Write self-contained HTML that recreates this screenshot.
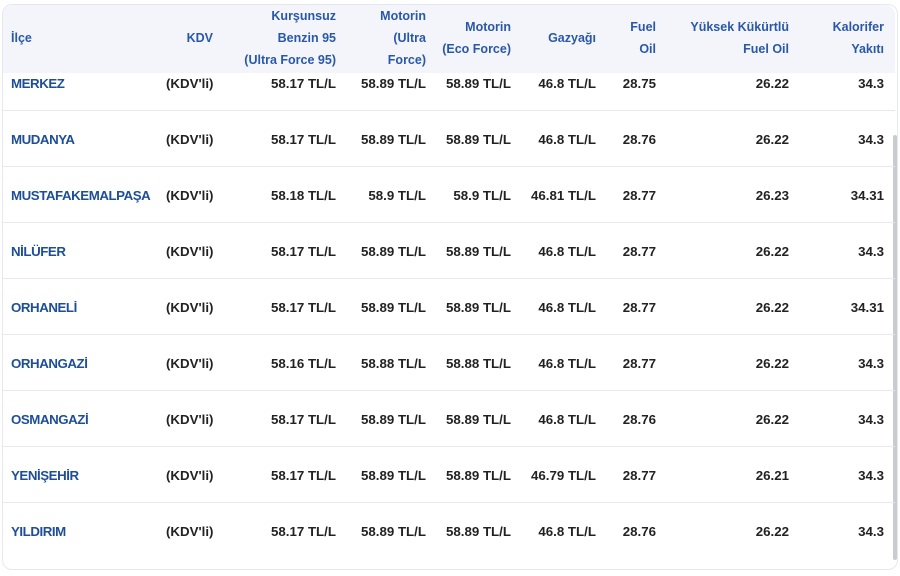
<!DOCTYPE html>
<html><head><meta charset="utf-8"><style>
body{margin:0;width:900px;height:576px;background:#fff;overflow:hidden;font-family:"Liberation Sans",sans-serif;font-weight:bold;font-size:13.3px;position:relative}
.box{position:absolute;left:2px;top:4px;width:894px;height:564px;border:1px solid #e6e8ee;border-radius:10px;}
.hd{position:absolute;left:3px;top:5px;width:892px;height:68px;background:#f3f5fb;border-radius:10px 10px 0 0}
.t{position:absolute;white-space:nowrap;line-height:22px}
.h{color:#2a58a8;font-size:12.5px;text-align:right}
.r{text-align:right;color:#222}
.n{color:#1d4e96;letter-spacing:-0.45px}
.k{color:#222}
.sep{position:absolute;left:3px;width:892px;height:1px;background:#e8e9ee}
.sb{position:absolute;left:893px;top:135px;width:4px;height:425px;background:#c9cbd0;border-radius:2px}
</style></head><body>
<div class="box"></div>
<div class="hd"></div>
<div class="sb"></div>
<div class="t h" style="left:11px;top:27px;text-align:left">İlçe</div>
<div class="t h" style="right:687px;top:27px">KDV</div>
<div class="t h" style="right:564px;top:5px">Kurşunsuz<br>Benzin 95<br>(Ultra Force 95)</div>
<div class="t h" style="right:474px;top:5px">Motorin<br>(Ultra<br>Force)</div>
<div class="t h" style="right:389px;top:16px">Motorin<br>(Eco Force)</div>
<div class="t h" style="right:304px;top:27px">Gazyağı</div>
<div class="t h" style="right:244px;top:16px">Fuel<br>Oil</div>
<div class="t h" style="right:111px;top:16px">Yüksek Kükürtlü<br>Fuel Oil</div>
<div class="t h" style="right:16px;top:16px">Kalorifer<br>Yakıtı</div>
<div id="rows"></div>
<script>
var d=[["MERKEZ","58.17","58.89","58.89","46.8","28.75","26.22","34.3"],
["MUDANYA","58.17","58.89","58.89","46.8","28.76","26.22","34.3"],
["MUSTAFAKEMALPAŞA","58.18","58.9","58.9","46.81","28.77","26.23","34.31"],
["NİLÜFER","58.17","58.89","58.89","46.8","28.77","26.22","34.3"],
["ORHANELİ","58.17","58.89","58.89","46.8","28.77","26.22","34.31"],
["ORHANGAZİ","58.16","58.88","58.88","46.8","28.77","26.22","34.3"],
["OSMANGAZİ","58.17","58.89","58.89","46.8","28.76","26.22","34.3"],
["YENİŞEHİR","58.17","58.89","58.89","46.79","28.77","26.21","34.3"],
["YILDIRIM","58.17","58.89","58.89","46.8","28.76","26.22","34.3"]];
var rights=[564,474,389,304,244,111,16],h="";
d.forEach(function(r,i){var y=73+i*56;
h+='<div class="t n" style="left:11px;top:'+y+'px">'+r[0]+'</div>';
h+='<div class="t k" style="left:166px;top:'+y+'px">(KDV\'li)</div>';
for(var j=1;j<8;j++){var v=r[j]+(j<=4?' TL/L':'');h+='<div class="t r" style="right:'+rights[j-1]+'px;top:'+y+'px">'+v+'</div>';}
if(i<8)h+='<div class="sep" style="top:'+(110+i*56)+'px"></div>';});
document.getElementById('rows').innerHTML=h;
</script>
</body></html>
